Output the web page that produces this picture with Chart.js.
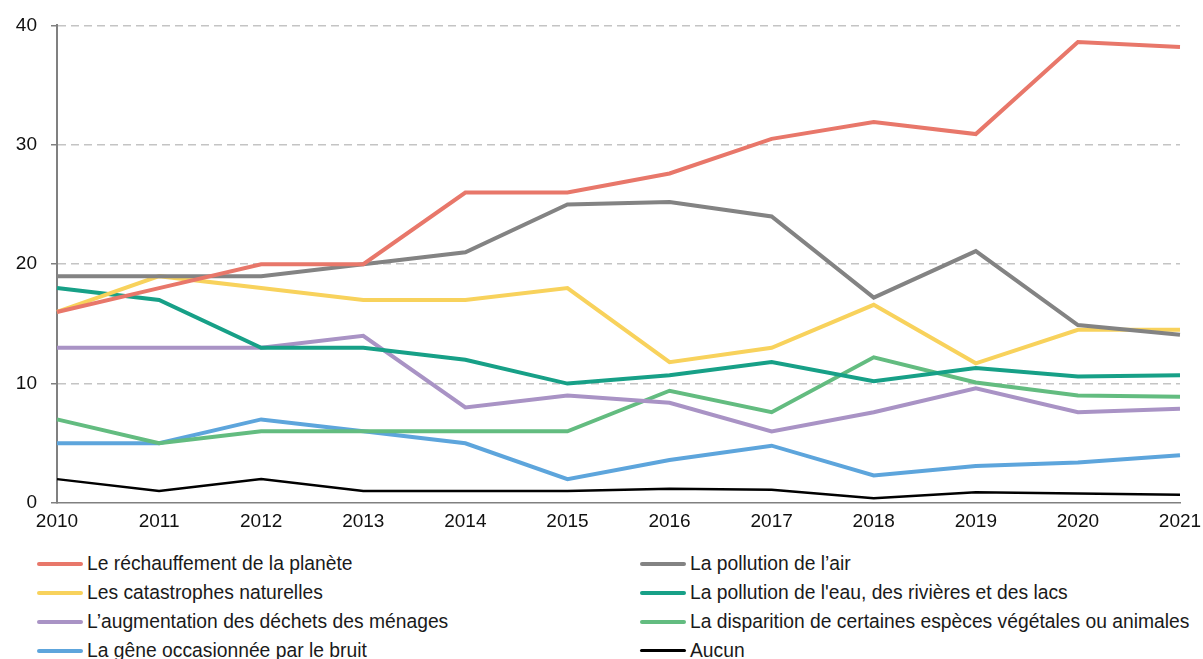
<!DOCTYPE html>
<html>
<head>
<meta charset="utf-8">
<script src="https://cdn.jsdelivr.net/npm/chart.js@4.4.1/dist/chart.umd.min.js"></script>
<style>
  html, body { margin: 0; padding: 0; background: #fff; }
  body { width: 1203px; height: 659px; overflow: hidden; position: relative; font-family: "Liberation Sans", Arial, sans-serif; }
  #wrap { position: absolute; left: 0; top: 0; width: 1203px; height: 537px; }
  #legend { position: absolute; left: 0; top: 549px; width: 1203px; }
  .item { position: absolute; height: 29px; display: flex; align-items: center; font-size: 19.3px; color: #1a1a1a; white-space: nowrap; }
  .item span.sw { display: inline-block; width: 46px; margin-right: 4px; border-radius: 2px; }
</style>
</head>
<body>
<div id="wrap"><canvas id="chart_enjeux"></canvas></div>
<div id="legend"></div>
<script>
// années et séries (en %)
const years = ['2010', '2011', '2012', '2013', '2014', '2015', '2016', '2017', '2018', '2019', '2020', '2021']
const yTicks = [0, 10, 20, 30, 40]

const rechauffement = [16, 18, 20, 20, 26, 26, 27.6, 30.5, 31.9, 30.9, 38.6, 38.2]
const pollutionAir = [19, 19, 19, 20, 21, 25, 25.2, 24, 17.2, 21.1, 14.9, 14.1]
const catastrophes = [16, 19, 18, 17, 17, 18, 11.8, 13, 16.6, 11.7, 14.5, 14.5]
const pollutionEau = [18, 17, 13, 13, 12, 10, 10.7, 11.8, 10.2, 11.3, 10.6, 10.7]
const dechets = [13, 13, 13, 14, 8, 9, 8.4, 6, 7.6, 9.6, 7.6, 7.9]
const especes = [7, 5, 6, 6, 6, 6, 9.4, 7.6, 12.2, 10.1, 9, 8.9]
const bruit = [5, 5, 7, 6, 5, 2, 3.6, 4.8, 2.3, 3.1, 3.4, 4]
const aucun = [2, 1, 2, 1, 1, 1, 1.2, 1.1, 0.4, 0.9, 0.8, 0.7]

const series = [
    { label: 'Le réchauffement de la planète', data: rechauffement, color: '#E8776A', width: 4 },
    { label: 'La pollution de l’air', data: pollutionAir, color: '#838383', width: 4 },
    { label: 'Les catastrophes naturelles', data: catastrophes, color: '#F8D25C', width: 4 },
    { label: "La pollution de l'eau, des rivières et des lacs", data: pollutionEau, color: '#17A087', width: 4 },
    { label: 'L’augmentation des déchets des ménages', data: dechets, color: '#A993C5', width: 4 },
    { label: 'La disparition de certaines espèces végétales ou animales', data: especes, color: '#63BC80', width: 4 },
    { label: 'La gêne occasionnée par le bruit', data: bruit, color: '#5DA5DC', width: 4 },
    { label: 'Aucun', data: aucun, color: '#000000', width: 2.5 }
]

const config = {
    type: 'line',
    data: {
        labels: years,
        datasets: series.map(s => ({
            label: s.label,
            data: s.data,
            borderColor: s.color,
            backgroundColor: s.color,
            borderWidth: s.width,
            pointRadius: 0,
            tension: 0,
            fill: false
        }))
    },
    options: {
        responsive: true,
        maintainAspectRatio: false,
        animation: false,
        layout: {
            padding: { top: 14, right: 0, left: 0, bottom: 0 }
        },
        plugins: {
            legend: { display: false },
            tooltip: { enabled: false }
        },
        scales: {
            x: {
                offset: false,
                grid: { display: false, drawTicks: true, tickLength: 0 },
                border: { display: true, color: '#808080', width: 1.5 },
                ticks: {
                    color: '#111',
                    font: { family: 'Liberation Sans', size: 19 },
                    padding: 7,
                    maxRotation: 0,
                    autoSkip: false
                },
                afterFit: (scale) => {
                    scale.height = 34
                    scale.paddingLeft = 0
                    scale.paddingRight = 23
                }
            },
            y: {
                min: 0,
                max: 40,
                afterBuildTicks: (scale) => { scale.ticks = yTicks.map(v => ({ value: v })) },
                grid: {
                    color: (ctx) => ctx.tick && ctx.tick.value === 0 ? 'rgba(0,0,0,0)' : '#c4c4c4',
                    lineWidth: 1.5,
                    tickColor: '#808080',
                    tickLength: 6,
                    tickBorderDash: [],
                    tickWidth: 1.5
                },
                // border.dash s'applique aux lignes de grille en v4
                border: { display: true, color: '#808080', width: 2, dash: [8, 5] },
                ticks: {
                    color: '#111',
                    font: { family: 'Liberation Sans', size: 19 },
                    padding: 14
                },
                afterFit: (scale) => { scale.width = 57 }
            }
        }
    }
}

const ctx = document.getElementById('chart_enjeux').getContext('2d')
window.chartEnjeux = new Chart(ctx, config)

// légende en deux colonnes sous le graphique
const legend = document.getElementById('legend')
window.chartEnjeux.data.datasets.forEach((ds, i) => {
    const item = document.createElement('div')
    item.className = 'item'
    item.style.left = (i % 2 === 0 ? 37 : 640) + 'px'
    item.style.top = (Math.floor(i / 2) * 29) + 'px'
    const sw = document.createElement('span')
    sw.className = 'sw'
    sw.style.height = (ds.borderWidth) + 'px'
    sw.style.background = ds.borderColor
    item.appendChild(sw)
    item.appendChild(document.createTextNode(ds.label))
    legend.appendChild(item)
})
</script>
</body>
</html>
